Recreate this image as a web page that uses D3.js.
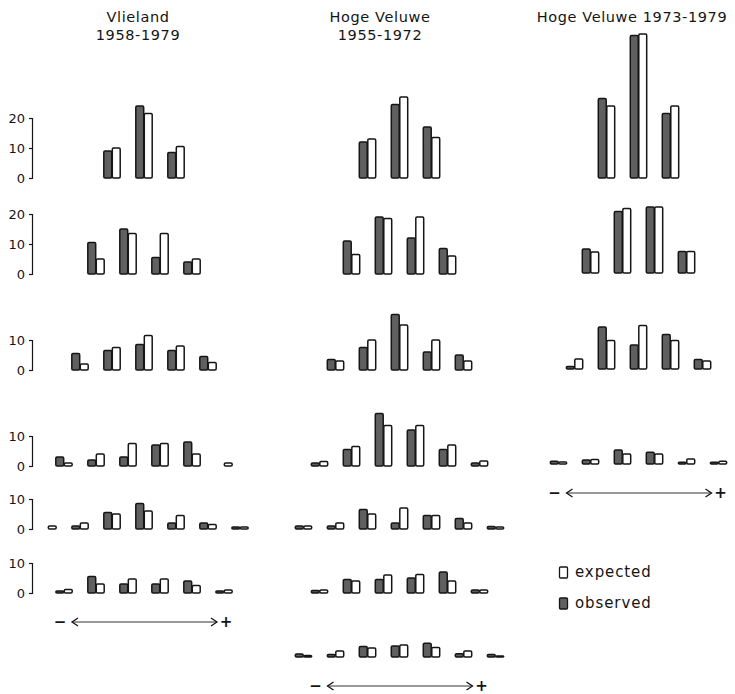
<!DOCTYPE html>
<html><head><meta charset="utf-8">
<script src="https://cdn.jsdelivr.net/npm/d3@7"></script>
<style>body{margin:0;background:#fff}svg{display:block}</style>
</head><body>
<svg id="chart" width="735" height="694"></svg>
<script>
// ---------- data ----------
const titlesVlieland = ["Vlieland", "1958-1979"];
const titlesHV1 = ["Hoge Veluwe", "1955-1972"];
const titlesHV2 = ["Hoge Veluwe 1973-1979"];
const seriesNames = ["observed", "expected"];
const legendLabels = ["expected", "observed"];
const yTicksTall = [0, 10, 20];
const yTicksShort = [0, 10];
const arrowSigns = ["−", "+"];

const vlielandObserved = [
  [9, 24, 8.5],
  [10.5, 15, 5.5, 4],
  [5.5, 6.5, 8.5, 6.5, 4.5],
  [3, 2, 3, 7, 8, 0],
  [0, 1, 5.5, 8.5, 2, 2, 0.7],
  [0.7, 5.5, 3, 3, 4, 0.7]
];
const vlielandExpected = [
  [10, 21.5, 10.5],
  [5, 13.5, 13.5, 5],
  [2, 7.5, 11.5, 8, 2.5],
  [1, 4, 7.5, 7.5, 4, 1],
  [1, 2, 5, 6, 4.5, 1.5, 0.7],
  [1.2, 3, 4.7, 4.7, 2.5, 1]
];
const hv1Observed = [
  [12, 24.5, 17],
  [11, 19, 12, 8.5],
  [3.5, 7.5, 18.5, 6, 5],
  [1, 5.5, 17.5, 12, 5.5, 1],
  [1, 1, 6.5, 2, 4.5, 3.5, 0.8],
  [0.8, 4.5, 4.5, 5, 7, 1],
  [1, 0.8, 3.5, 3.7, 4.6, 1.1, 0.8]
];
const hv1Expected = [
  [13, 27, 13.5],
  [6.5, 18.5, 19, 6],
  [3, 10, 15, 10, 3],
  [1.5, 6.5, 13.5, 13.5, 7, 1.7],
  [1, 2, 5, 7, 4.5, 2, 0.7],
  [1, 4, 6, 6.2, 4, 1],
  [0.5, 2, 3, 4, 3.2, 2, 0.3]
];
const hv2Observed = [
  [26.5, 47.5, 21.5],
  [8, 20.5, 22, 7.2],
  [0.8, 14, 8, 11.5, 3.2],
  [0.9, 1.3, 4.7, 3.9, 0.6, 0.6]
];
const hv2Expected = [
  [24, 48, 24],
  [7, 21.5, 22, 7.2],
  [3.3, 9.5, 14.5, 9.5, 2.7],
  [0.7, 1.5, 3.3, 3.3, 1.7, 0.9]
];

// ---------- layout ----------
const ppu = 3.0;          // pixels per unit
const groupStep = 32;
const halfPair = 8.5;
const font = "'DejaVu Sans', sans-serif";
const ink = "#151515";
const darkFill = "#606060";

const svg = d3.select("#chart");

const columns = [
  { titles: titlesVlieland, titleX: 138, observed: vlielandObserved, expected: vlielandExpected,
    center: 144, baselines: [178, 274, 370, 466, 529, 593], axis: true },
  { titles: titlesHV1, titleX: 380, observed: hv1Observed, expected: hv1Expected,
    center: 399.5, baselines: [178, 274, 370, 466, 529, 593, 657], axis: false },
  { titles: titlesHV2, titleX: 632, observed: hv2Observed, expected: hv2Expected,
    center: 638.5, baselines: [178, 273, 369, 464], axis: false }
];

function drawColumn(cfg) {
  const g = svg.append("g");
  cfg.titles.forEach((t, i) => {
    g.append("text").attr("x", cfg.titleX).attr("y", 22 + i * 18)
      .attr("text-anchor", "middle").attr("font-family", font)
      .attr("font-size", 14.5).attr("letter-spacing", 0.6).attr("fill", ink).text(t);
  });

  cfg.observed.forEach((obsRow, r) => {
    const expRow = cfg.expected[r];
    const n = obsRow.length;
    const base = cfg.baselines[r];
    const half = (n - 1) / 2;
    const x = d3.scaleLinear().domain([-half, half])
      .range([cfg.center - half * groupStep, cfg.center + half * groupStep]);
    const inner = d3.scaleBand().domain(seriesNames).range([-halfPair, halfPair]).padding(0);
    const y = d3.scaleLinear().domain([0, 20]).range([base, base - 20 * ppu]);

    const data = [];
    obsRow.forEach((v, i) => {
      data.push({ k: "observed", i: i - half, v: v });
      data.push({ k: "expected", i: i - half, v: expRow[i] });
    });

    g.append("g").selectAll("rect").data(data.filter(d => d.v > 0)).enter().append("rect")
      .attr("x", d => x(d.i) + inner(d.k) + 0.3)
      .attr("width", inner.bandwidth() - 0.6)
      .attr("y", d => y(d.v))
      .attr("height", d => y(0) - y(d.v))
      .attr("rx", 1.2)
      .attr("fill", d => d.k === "observed" ? darkFill : "#fff")
      .attr("stroke", ink).attr("stroke-width", 1.5);

    if (cfg.axis) {
      const ticks = r < 2 ? yTicksTall : yTicksShort;
      const maxT = d3.max(ticks);
      const ya = y.copy().domain([0, maxT]).range([y(0), y(maxT)]);
      const ax = g.append("g").attr("transform", `translate(32,0)`)
        .call(d3.axisLeft(ya).tickValues(ticks).tickSize(3).tickPadding(4).tickFormat(d3.format("d")));
      ax.selectAll("path,line").attr("stroke", ink).attr("stroke-width", 1.2);
      ax.selectAll("text").attr("font-family", font).attr("font-size", 13).attr("fill", ink);
    }

    if (r === cfg.observed.length - 1) {
      const ay = base + 29;
      const ax0 = cfg.center - 72, ax1 = cfg.center + 73;
      const ar = g.append("g");
      ar.append("line").attr("x1", ax0).attr("x2", ax1).attr("y1", ay).attr("y2", ay)
        .attr("stroke", "#333").attr("stroke-width", 1.1);
      ar.append("path").attr("d", `M${ax0 + 6},${ay - 4} L${ax0},${ay} L${ax0 + 6},${ay + 4}`)
        .attr("fill", "none").attr("stroke", ink).attr("stroke-width", 1.3);
      ar.append("path").attr("d", `M${ax1 - 6},${ay - 4} L${ax1},${ay} L${ax1 - 6},${ay + 4}`)
        .attr("fill", "none").attr("stroke", ink).attr("stroke-width", 1.3);
      ar.append("text").attr("x", cfg.center - 84).attr("y", ay + 5).attr("text-anchor", "middle")
        .attr("font-family", font).attr("font-size", 15).attr("font-weight", "bold").attr("fill", ink).text(arrowSigns[0]);
      ar.append("text").attr("x", cfg.center + 82).attr("y", ay + 5).attr("text-anchor", "middle")
        .attr("font-family", font).attr("font-size", 15).attr("font-weight", "bold").attr("fill", ink).text(arrowSigns[1]);
    }
  });
}

columns.forEach(drawColumn);

// legend
const legend = svg.append("g");
legendLabels.forEach((lab, i) => {
  const ly = 577 + i * 31;
  legend.append("rect").attr("x", 559.5).attr("y", ly - 10).attr("width", 8).attr("height", 11).attr("rx", 1)
    .attr("fill", lab === "observed" ? darkFill : "#fff").attr("stroke", ink).attr("stroke-width", 1.3);
  legend.append("text").attr("x", 575).attr("y", ly).attr("font-family", font)
    .attr("font-size", 15).attr("letter-spacing", 0.9).attr("fill", ink).text(lab);
});
</script>
</body></html>
